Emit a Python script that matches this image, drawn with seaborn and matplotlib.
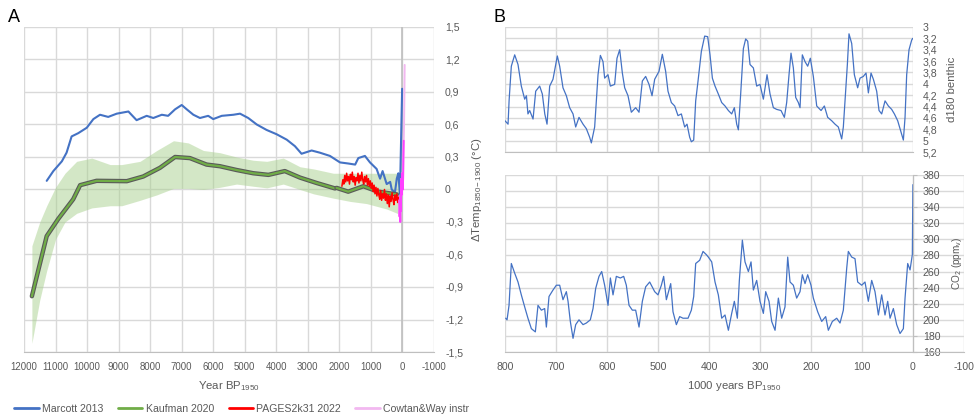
import numpy as np
import pandas as pd
import matplotlib
matplotlib.use('Agg')
import matplotlib.pyplot as plt
import matplotlib.patheffects as pe
from matplotlib.ticker import FuncFormatter
from matplotlib.lines import Line2D
import seaborn as sns

# ---------------- Panel A data ----------------
marcott_year = [11280, 11070, 10800, 10650, 10490, 10280, 10010, 9800, 9590, 9330, 9060, 8690,
                8430, 8110, 7900, 7630, 7430, 7210, 7000, 6840, 6630, 6420, 6160, 6000, 5730,
                5360, 5150, 4890, 4620, 4310, 3990, 3670, 3410, 3200, 2880, 2620, 2300, 1980,
                1720, 1500, 1400, 1190, 1030, 820, 710, 630, 500, 390, 340, 240, 180, 130, 80, 10]
marcott_temp = [0.08, 0.17, 0.26, 0.34, 0.49, 0.52, 0.57, 0.65, 0.69, 0.67, 0.70, 0.72,
                0.64, 0.68, 0.66, 0.69, 0.68, 0.74, 0.78, 0.74, 0.69, 0.66, 0.68, 0.65, 0.68,
                0.69, 0.70, 0.66, 0.60, 0.55, 0.51, 0.46, 0.40, 0.33, 0.36, 0.34, 0.31, 0.25,
                0.24, 0.23, 0.29, 0.31, 0.25, 0.19, 0.10, 0.17, 0.05, 0.07, 0.0, -0.03, 0.10, 0.15, -0.05, 0.93]

kauf_year_1 = [11750, 11280, 10910, 10440, 10220, 9700, 8740, 8220, 7690, 7210, 6740, 6210,
               5790, 5260, 4730, 4250, 3730, 3250, 2720, 2140]
kauf_temp_1 = [-0.985, -0.43, -0.27, -0.09, 0.04, 0.08, 0.077, 0.12, 0.20, 0.30, 0.29, 0.23,
               0.215, 0.18, 0.15, 0.135, 0.17, 0.11, 0.06, 0.01]
kauf_year_2 = [2090, 1720, 1240, 770, 180]
kauf_temp_2 = [0.015, -0.02, 0.03, -0.02, -0.045]

band_year = [11750, 11500, 11280, 11000, 10700, 10330, 9850, 9270, 8900, 8320, 7790, 7260, 6790,
             6310, 5790, 5260, 4730, 4300, 3780, 3250, 2820, 2190, 1660, 1140, 500, 80]
band_hi = [-0.52, -0.30, -0.15, 0.02, 0.15, 0.26, 0.29, 0.23, 0.23, 0.26, 0.36, 0.45, 0.43,
           0.36, 0.34, 0.30, 0.27, 0.26, 0.29, 0.21, 0.19, 0.15, 0.15, 0.15, 0.15, 0.15]
band_lo = [-1.42, -1.02, -0.75, -0.46, -0.30, -0.22, -0.17, -0.15, -0.15, -0.10, -0.05, 0.01, 0.01,
           0.0, 0.02, 0.05, 0.03, 0.015, 0.05, 0.0, -0.04, -0.08, -0.11, -0.13, -0.18, -0.23]

pages_year = list(range(1920, 89, -30))
pages_temp = [0.03, 0.09, 0.05, 0.13, 0.07, 0.15, 0.08, 0.12, 0.05, 0.14,
              0.09, 0.16, 0.07, 0.12, 0.04, 0.11, 0.08, 0.15, 0.06, 0.13,
              0.08, 0.16, 0.09, 0.05, 0.12, 0.07, 0.13, 0.04, 0.10, 0.03,
              0.08, 0.01, 0.06, -0.02, 0.04, -0.04, 0.02, -0.06, 0.01, -0.05,
              -0.09, -0.01, -0.10, -0.04, -0.08, 0.0, -0.10, -0.04, -0.13, -0.05,
              -0.16, -0.06, -0.11, -0.03, -0.09, -0.14, -0.05, -0.10, -0.04, -0.12,
              -0.07, -0.15]

cw_year = [100, 90, 80, 70, 60, 50, 40, 30, 20, 10, 0, -10, -20, -30, -40, -50, -60, -70]
cw_temp = [-0.10, -0.25, -0.15, -0.30, -0.05, -0.20, 0.05, 0.10, -0.05, 0.15, 0.05, 0.0,
           0.10, 0.30, 0.45, 0.60, 0.85, 1.15]

# ---------------- Panel B data ----------------
d18o_kyr = [800, 794, 792, 787.6, 781, 774.5, 768, 761.4, 758, 755, 751.6, 745, 739.8, 732, 726.8,
            722, 717.6, 712.4, 705.9, 697.4, 692.8, 686.3, 679.7, 673.2, 666.6, 661.4, 654.9, 647,
            640.5, 634, 630.7, 624.2, 617.6, 613, 607.8, 604.6, 598, 593.4, 585, 580.4, 575.1,
            569.9, 565.3, 558.8, 552.3, 543.8, 537.2, 530.7, 524.2, 517.6, 511.7, 506.5, 498,
            491.5, 485, 480.4, 473.8, 467.3, 460.8, 454.2, 447.7, 443.1, 437.9, 434.6, 430, 426.1,
            421.5, 415, 408.5, 402.6, 398, 393.4, 388.2, 381.7, 375.1, 368.6, 362, 355.5, 350.3,
            345.7, 342.4, 337.9, 332.6, 328.1, 324.1, 319.6, 313, 306.5, 300, 293.4, 286.2, 280.3,
            273.8, 267.3, 258.8, 252.2, 247.7, 243.1, 239.2, 234.6, 230, 224.8, 221.5, 217, 211.7,
            206.5, 201.3, 195.4, 188.8, 180.3, 173.8, 167.3, 159.4, 152.9, 146.4, 139.8, 136.6, 132,
            128.7, 125.5, 120.2, 115, 108.5, 103.9, 97.4, 92.1, 87.5, 82.3, 77.7, 71.2, 66.6, 61.4,
            54.8, 48.3, 41.8, 36.5, 30, 23.5, 18.9, 15.6, 12.4, 7.8, 2.6, 0.5]
d18o_val = [4.65, 4.71, 4.30, 3.69, 3.49, 3.66, 4.04, 4.27, 4.21, 4.53, 4.47, 4.62, 4.13, 4.04, 4.18,
            4.53, 4.71, 4.04, 3.92, 3.51, 3.69, 4.07, 4.21, 4.42, 4.53, 4.76, 4.59, 4.71,
            4.79, 4.94, 5.04, 4.76, 3.84, 3.50, 3.61, 3.90, 3.84, 4.04, 4.01, 3.55, 3.40,
            3.81, 4.07, 4.21, 4.50, 4.42, 4.50, 3.95, 3.87, 4.01, 4.21, 3.92, 3.78,
            3.48, 3.78, 4.13, 4.33, 4.39, 4.56, 4.53, 4.76, 4.71, 4.94, 5.02, 4.99, 4.30,
            3.95, 3.43, 3.16, 3.17, 3.49, 3.90, 4.04, 4.18, 4.33, 4.39, 4.47, 4.53, 4.42,
            4.71, 4.81, 4.18, 3.38, 3.21, 3.25, 3.66, 3.72, 4.04, 4.01, 4.27, 3.84, 4.18,
            4.42, 4.45, 4.47, 4.59, 4.33, 3.84, 3.46, 3.72, 4.24, 4.33, 4.42, 3.49, 3.61,
            3.69, 3.55, 3.87, 4.39, 4.47, 4.39, 4.59, 4.65, 4.71, 4.76, 4.97, 4.76, 4.13,
            3.66, 3.12, 3.29, 3.84, 4.07, 3.90, 3.87, 3.81, 4.16, 3.81, 3.92, 4.13, 4.47, 4.53,
            4.30, 4.39, 4.45, 4.53, 4.65, 4.85, 4.99, 4.59, 3.84, 3.40, 3.23, 3.20]

co2_kyr = [798.7, 796, 792.1, 787.6, 781, 774.5, 768, 761.4, 755, 748.3, 740.5, 735.3, 728.7, 722.2,
           718.9, 713.7, 705.9, 699.3, 692.8, 686.3, 679.7, 676.4, 671.9, 666.6, 661.4, 654.9, 647,
           640.5, 632.7, 627.4, 622.2, 615.7, 610.4, 604.6, 598, 593.4, 588.2, 581.7, 573.8, 567.3,
           562.1, 556.8, 550.3, 543.8, 537.2, 530.7, 524.2, 516.3, 506.5, 500, 493.4, 488.9, 483.6,
           478.4, 475.1, 470.6, 464, 457.5, 451, 441.1, 434.6, 430, 426.1, 418.3, 411.7, 405.2,
           401.3, 394.7, 388.2, 381.7, 375.1, 368.6, 362, 355.5, 350.3, 344.4, 340.5, 334.6, 329.4,
           322.8, 317.6, 313, 306.5, 300, 293.4, 288.8, 282.3, 277.1, 270.5, 264, 257.5, 251, 245.7,
           241.1, 234.6, 228.1, 221.5, 217, 211.7, 206.5, 200, 195.4, 186.9, 179, 171.2, 166, 158.1,
           149.6, 143.1, 136.6, 130, 126.8, 120.2, 113.7, 108.5, 100.6, 94.1, 87.6, 81, 74.5, 67.9,
           61.4, 54.9, 49.6, 45, 38.5, 32, 25.4, 18.9, 15.6, 10.4, 5.8, 1.3, 0.2]
co2_ppm = [202, 200, 218, 270, 258, 247, 231, 216, 202, 189, 185, 218, 212, 214,
           191, 229, 237, 243, 243, 225, 235, 223, 198, 177, 194, 200, 194,
           196, 200, 214, 239, 254, 260, 243, 218, 252, 231, 254, 252, 254,
           243, 218, 212, 212, 191, 223, 241, 247, 235, 231, 243, 254, 225,
           237, 245, 210, 194, 204, 202, 202, 212, 229, 270, 274, 285, 281,
           278, 272, 247, 231, 202, 206, 187, 208, 223, 202, 249, 299, 272,
           260, 272, 237, 249, 223, 208, 235, 223, 198, 187, 227, 202, 216, 278,
           247, 243, 227, 235, 256, 245, 256, 243, 227, 210, 198, 204, 187, 198,
           202, 196, 212, 264, 285, 278, 276, 247, 243, 247, 223, 249, 235, 206,
           231, 206, 223, 202, 214, 194, 183, 189, 227, 270, 262, 281, 368]

# ---------------- Style ----------------
sns.set_style('white')
plt.rcParams['font.family'] = ['Liberation Sans', 'DejaVu Sans']
plt.rcParams['axes.unicode_minus'] = False
plt.rcParams['mathtext.fontset'] = 'custom'
plt.rcParams['mathtext.rm'] = 'Liberation Sans'
plt.rcParams['mathtext.it'] = 'Liberation Sans:italic'
plt.rcParams['mathtext.bf'] = 'Liberation Sans:bold'

TXT = '#595959'
GRID = '#D9D9D9'
AXLINE = '#BFBFBF'
FS = 7.6
BLUE = '#4472C4'
GREEN = '#70AD47'
RED = '#FF0000'
PINK = '#F2B8F0'
MAGENTA = '#FF40FF'


def comma_fmt(v, pos):
    s = f"{v:.1f}".rstrip('0').rstrip('.')
    if s == '-0':
        s = '0'
    return s.replace('.', ',')


def int_fmt(v, pos):
    return f"{int(round(v))}"


fig = plt.figure(figsize=(9.8, 4.17), dpi=100)
axA = fig.add_axes([24 / 980, 65 / 417, 410 / 980, 325 / 417])
axB1 = fig.add_axes([505 / 980, 265 / 417, 408 / 980, 125 / 417])
axB2 = fig.add_axes([505 / 980, 65 / 417, 459 / 980, 177 / 417])

# ---------------- Panel A ----------------
axA.fill_between(band_year, band_lo, band_hi, color='#A9D18E', alpha=0.5, lw=0, zorder=1)
sns.lineplot(x=marcott_year, y=marcott_temp, ax=axA, color=BLUE, lw=1.5, sort=False,
             estimator=None, zorder=3)
kdf = pd.DataFrame({
    'year': kauf_year_1 + kauf_year_2,
    'temp': kauf_temp_1 + kauf_temp_2,
    'seg': [1] * len(kauf_year_1) + [2] * len(kauf_year_2),
})
sns.lineplot(data=kdf, x='year', y='temp', units='seg', estimator=None, sort=False, ax=axA,
             color=GREEN, lw=1.6, zorder=4,
             path_effects=[pe.Stroke(linewidth=3.2, foreground='#5A5A5A'), pe.Normal()])
sns.lineplot(x=pages_year, y=pages_temp, ax=axA, color=RED, lw=1.1, sort=False,
             estimator=None, zorder=5)
sns.lineplot(x=cw_year, y=cw_temp, ax=axA, color=PINK, lw=1.4, sort=False, estimator=None, zorder=6)
sns.lineplot(x=cw_year[:15], y=cw_temp[:15], ax=axA, color=MAGENTA, lw=1.4, sort=False,
             estimator=None, zorder=6)
axA.axvline(0, color=AXLINE, lw=1.2, zorder=2)

axA.set_xlim(12000, -1000)
axA.set_ylim(-1.5, 1.5)
axA.set_xticks(list(range(12000, -1001, -1000)))
axA.set_yticks(np.round(np.arange(-1.5, 1.51, 0.3), 1))
axA.xaxis.set_major_formatter(FuncFormatter(int_fmt))
axA.yaxis.set_major_formatter(FuncFormatter(comma_fmt))
axA.yaxis.tick_right()
axA.grid(True, color=GRID, lw=1.0)
axA.set_axisbelow(True)
axA.tick_params(axis='both', length=0, labelsize=FS, labelcolor=TXT)
axA.tick_params(axis='x', pad=7, labelsize=6.9)
axA.tick_params(axis='y', pad=8)
for s in axA.spines.values():
    s.set_visible(False)
axA.spines['bottom'].set_visible(True)
axA.spines['bottom'].set_color(AXLINE)
axA.set_xlabel('Year BP$_{\\mathrm{1950}}$', fontsize=8.2, color=TXT)
axA.xaxis.set_label_coords(0.5, -0.083)
axA.xaxis.label.set_verticalalignment('top')
axA.yaxis.set_label_position('right')
axA.set_ylabel('ΔTemp$_{\\mathrm{1850-1900}}$ (°C)', fontsize=8.2, color=TXT)
axA.yaxis.set_label_coords(1.088, 0.5)

# ---------------- Panel B top ----------------
sns.lineplot(x=d18o_kyr, y=d18o_val, ax=axB1, color=BLUE, lw=0.9, sort=False, estimator=None)
axB1.set_xlim(800, 0)
axB1.set_ylim(5.2, 3.0)
axB1.set_xticks(list(range(800, -1, -100)))
axB1.set_yticks(np.round(np.arange(3.0, 5.21, 0.2), 1))
axB1.yaxis.set_major_formatter(FuncFormatter(comma_fmt))
axB1.yaxis.tick_right()
axB1.grid(True, color=GRID, lw=1.0)
axB1.set_axisbelow(True)
axB1.tick_params(axis='x', length=0, labelbottom=False)
axB1.tick_params(axis='y', length=0, labelsize=FS, labelcolor=TXT, pad=7)
for s in axB1.spines.values():
    s.set_visible(False)
axB1.spines['bottom'].set_visible(True)
axB1.spines['bottom'].set_color(AXLINE)
axB1.set_xlabel('')
axB1.yaxis.set_label_position('right')
axB1.set_ylabel('d180 benthic', fontsize=8.2, color=TXT)
axB1.yaxis.set_label_coords(1.083, 0.5)

# ---------------- Panel B bottom ----------------
sns.lineplot(x=co2_kyr, y=co2_ppm, ax=axB2, color=BLUE, lw=0.9, sort=False, estimator=None)
axB2.set_xlim(800, -100)
axB2.set_ylim(160, 380)
axB2.set_xticks(list(range(800, -101, -100)))
axB2.set_yticks(list(range(160, 381, 20)))
axB2.xaxis.set_major_formatter(FuncFormatter(int_fmt))
axB2.yaxis.tick_right()
axB2.grid(True, color=GRID, lw=1.0)
axB2.set_axisbelow(True)
axB2.tick_params(axis='x', length=0, labelsize=FS, labelcolor=TXT, pad=7)
axB2.tick_params(axis='y', length=3, color=AXLINE, direction='out', labelsize=FS,
                 labelcolor=TXT, pad=4)
for s in axB2.spines.values():
    s.set_visible(False)
axB2.spines['bottom'].set_visible(True)
axB2.spines['bottom'].set_color(AXLINE)
axB2.spines['right'].set_visible(True)
axB2.spines['right'].set_color(AXLINE)
axB2.spines['right'].set_position(('data', 0))
axB2.set_xlabel('1000 years BP$_{\\mathrm{1950}}$', fontsize=8.2, color=TXT)
axB2.xaxis.set_label_coords(0.5, -0.1525)
axB2.xaxis.label.set_verticalalignment('top')
axB2.yaxis.set_label_position('right')
axB2.set_ylabel('CO$_{\\mathrm{2}}$ (ppm$_{\\mathrm{v}}$)', fontsize=7.2, color=TXT)
axB2.yaxis.set_label_coords(0.9695, 0.5)

# ---------------- Legend & panel letters ----------------
handles = [Line2D([], [], color=BLUE, lw=2), Line2D([], [], color=GREEN, lw=2),
           Line2D([], [], color=RED, lw=2), Line2D([], [], color=PINK, lw=2)]
labels = ['Marcott 2013', 'Kaufman 2020', 'PAGES2k31 2022', 'Cowtan&Way instr']
fig.legend(handles, labels, loc='center', bbox_to_anchor=(242 / 980, 1 - 409 / 417), ncol=4,
           frameon=False, fontsize=7.6, labelcolor=TXT, handlelength=2.3, handletextpad=0.35,
           columnspacing=1.35)

fig.text(8 / 980, 1 - 17 / 417, 'A', fontsize=13, ha='left', va='center', color='black')
fig.text(493 / 980, 1 - 17 / 417, 'B', fontsize=13, ha='left', va='center', color='black')

fig.savefig('out.png', dpi=100)
